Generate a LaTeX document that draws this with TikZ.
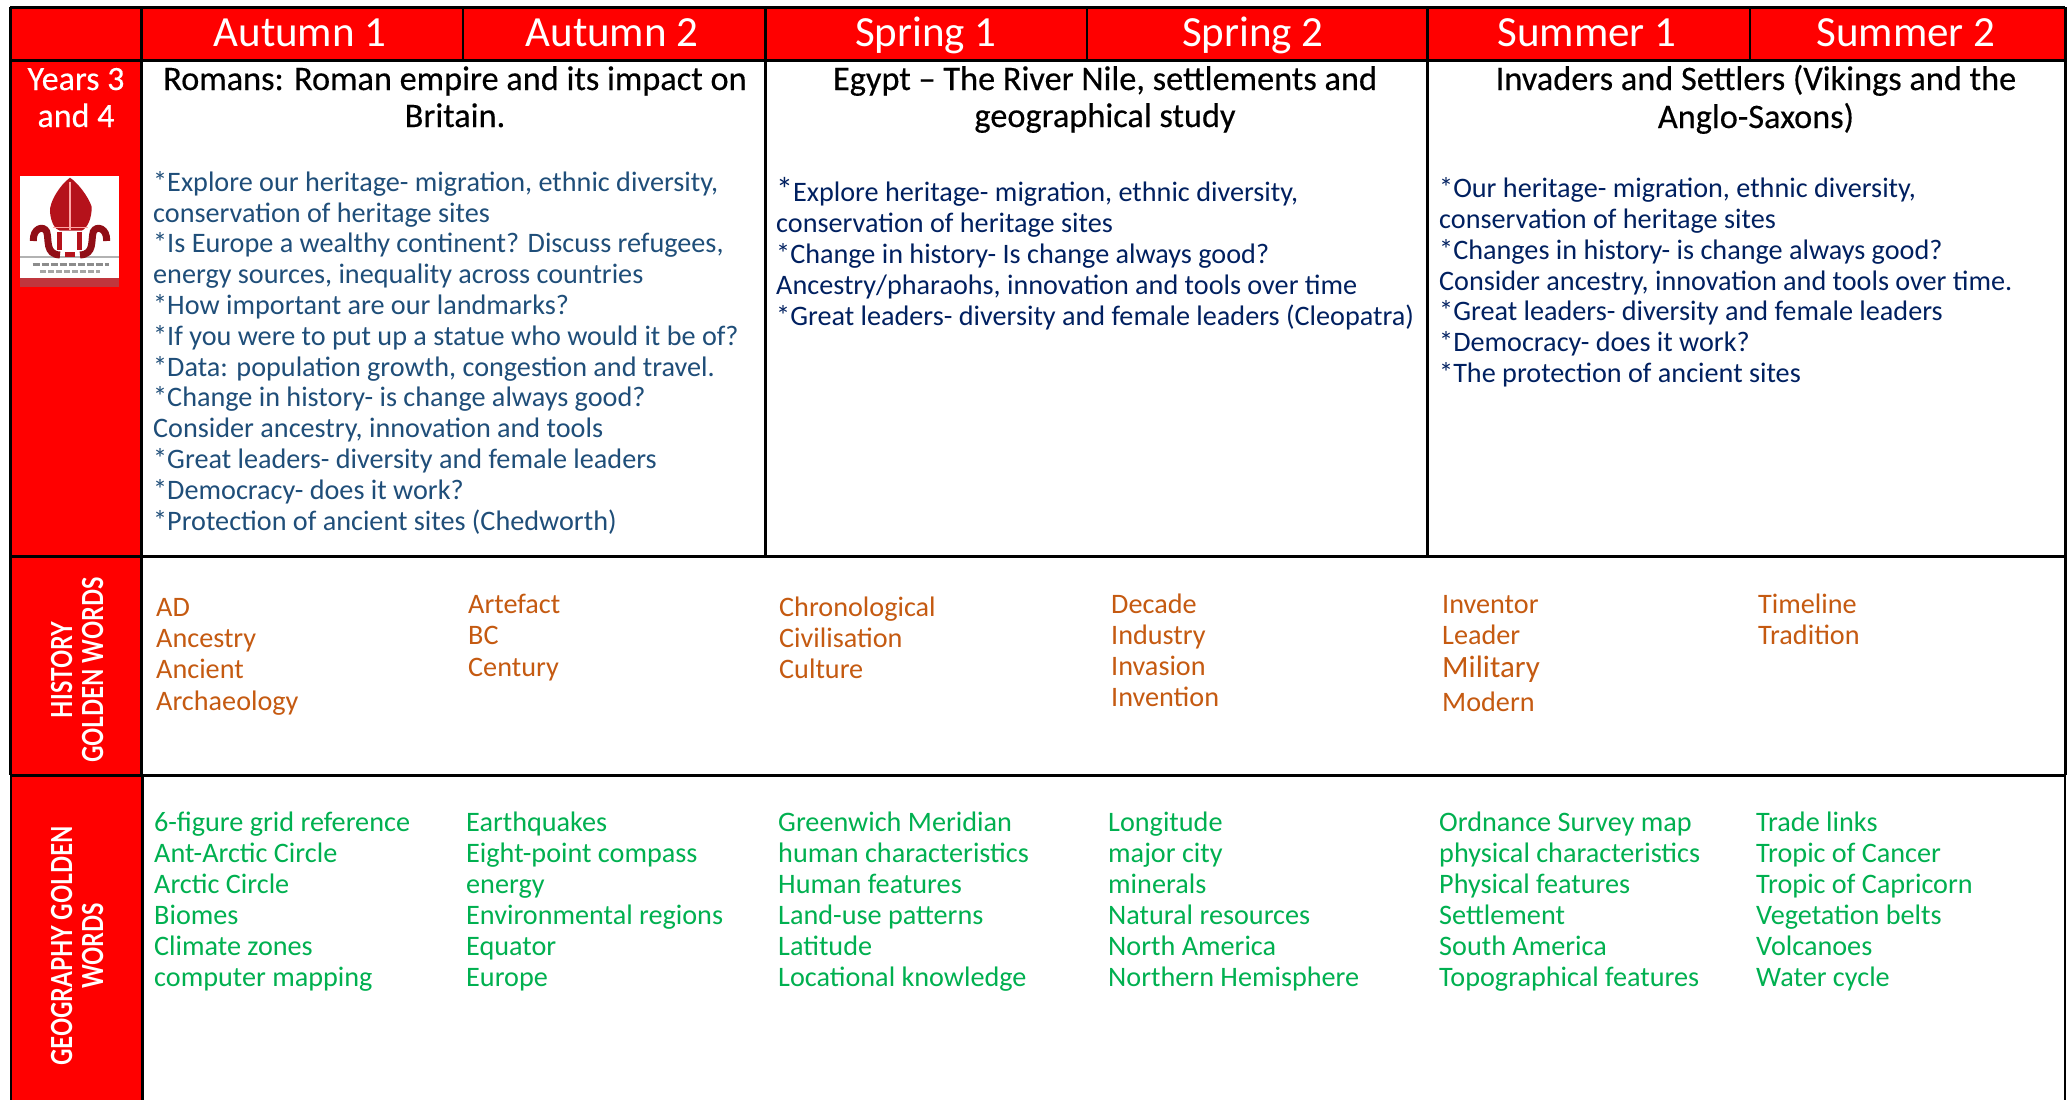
\documentclass[tikz,border=0pt]{standalone}
\usepackage{fontspec}
\setmainfont{Carlito}
\newfontfamily\labfont{Lato}
\newfontfamily\heavyfont[FakeBold=0.35]{Carlito}
\definecolor{hdrred}{HTML}{FF0000}
\definecolor{bodya}{HTML}{1F4E79}
\definecolor{bodyb}{HTML}{002060}
\definecolor{hist}{HTML}{C55A11}
\definecolor{geo}{HTML}{00B050}
\definecolor{logored}{HTML}{B5121B}
\newcommand{\sidetext}[1]{\scalebox{0.78}[1]{#1}}
\tikzset{
  rule/.style={line width=3pt,black},
  thinrule/.style={line width=2pt,black},
  hdr/.style={anchor=base,inner sep=0pt,white,font=\fontsize{43}{43}\selectfont},
  yr/.style={anchor=base,inner sep=0pt,white,font=\heavyfont\fontsize{34}{34}\selectfont},
  ttl/.style={anchor=base,inner sep=0pt,black,font=\heavyfont\fontsize{34.3}{34.3}\selectfont},
  ba/.style={anchor=base west,inner sep=0pt,bodya,font=\fontsize{28.2}{28.2}\selectfont},
  bb/.style={anchor=base west,inner sep=0pt,bodyb,font=\fontsize{28.2}{28.2}\selectfont},
  hw/.style={anchor=base west,inner sep=0pt,hist,font=\fontsize{28.2}{28.2}\selectfont},
  gw/.style={anchor=base west,inner sep=0pt,geo,font=\fontsize{28.2}{28.2}\selectfont},
  side/.style={anchor=base,inner sep=0pt,rotate=90,white,font=\labfont\bfseries\fontsize{29}{29}\selectfont},
}
\begin{document}
\begin{tikzpicture}[x=1pt,y=-1pt]
\useasboundingbox (0,0) rectangle (2067,1100);
\fill[white] (0,0) rectangle (2067,1100);
% red areas
\fill[hdrred] (10,7) rectangle (2065,60);
\fill[hdrred] (10,60) rectangle (142,1100);
% logo
\begin{scope}[shift={(10,165)},x=0.3333pt,y=-0.3333pt]
\fill[white] (30,33) rectangle (327,365);
\fill[logored!85!white] (30,340) rectangle (327,365);
\draw[gray!60,line width=1.5pt] (30,276) -- (327,276);
\draw[black!45,line width=3pt,dash pattern=on 7pt off 2pt] (68,298) -- (298,298);
\draw[black!35,line width=2.5pt,dash pattern=on 6pt off 2pt] (90,320) -- (270,320);
\fill[logored] (180,38) .. controls (150,60) and (118,110) .. (120,140) .. controls (122,170) and (135,195) .. (150,197) -- (215,197) .. controls (232,190) and (246,160) .. (245,125) .. controls (235,95) and (205,55) .. (180,38) -- cycle;
\draw[logored!80!black,line width=7pt] (70,228) .. controls (68,190) and (100,180) .. (110,200) .. controls (118,225) and (105,268) .. (150,270);
\draw[logored!80!black,line width=7pt] (290,228) .. controls (292,190) and (260,180) .. (250,200) .. controls (242,225) and (255,268) .. (210,270);
\draw[logored,line width=5pt] (150,200) -- (150,255) (210,200) -- (210,255) (165,270) -- (195,270);
\draw[red!35!white,line width=1.5pt] (180,50) -- (180,195) (128,188) -- (235,188);
\end{scope}
% rules
\draw[rule] (10,7) -- (2065,7);
\draw[rule] (10,60) -- (2065,60);
\draw[rule] (10,556) -- (2065,556);
\draw[rule] (10,775) -- (2065,775);
\draw[rule] (10,7) -- (10,775);
\draw[line width=2pt] (11,775) -- (11,1100);
\draw[rule] (141.5,7) -- (141.5,775);
\draw[rule] (142.5,775) -- (142.5,1100);
\draw[rule] (765,7) -- (765,556);
\draw[rule] (1427,7) -- (1427,556);
\draw[rule] (2065,7) -- (2065,775);
\draw[line width=1.5pt] (2065,775) -- (2065,1100);
\draw[thinrule] (463,7) -- (463,60);
\draw[thinrule] (1087,7) -- (1087,60);
\draw[thinrule] (1750,7) -- (1750,60);
% header
\node[hdr] (h1) at (300,46) {Autumn 1};
\node[hdr] (h2) at (612,46) {Autumn 2};
\node[hdr] (h3) at (926,46) {Spring 1};
\node[hdr] (h4) at (1253,46) {Spring 2};
\node[hdr] (h5) at (1587,46) {Summer 1};
\node[hdr] (h6) at (1906,46) {Summer 2};
\node[yr] (y1) at (76,90) {Years 3};
\node[yr] (y2) at (76,127) {and 4};
% titles
\node[ttl] (t1a) at (455,90) {Romans: Roman empire and its impact on};
\node[ttl] (t1b) at (455,127) {Britain.};
\node[ttl] (t2a) at (1105,90) {Egypt – The River Nile, settlements and};
\node[ttl] (t2b) at (1105,127) {geographical study};
\node[ttl] (t3a) at (1756,90) {Invaders and Settlers (Vikings and the};
\node[ttl] (t3b) at (1756,128) {Anglo-Saxons)};
% body 1
\node[ba] (a1) at (153,191) {*Explore our heritage- migration, ethnic diversity,};
\node[ba] (a2) at (153,222) {conservation of heritage sites};
\node[ba] (a3) at (153,252) {*Is Europe a wealthy continent? Discuss refugees,};
\node[ba] (a4) at (153,283) {energy sources, inequality across countries};
\node[ba] (a5) at (153,314) {*How important are our landmarks?};
\node[ba] (a6) at (153,345) {*If you were to put up a statue who would it be of?};
\node[ba] (a7) at (153,376) {*Data: population growth, congestion and travel.};
\node[ba] (a8) at (153,406) {*Change in history- is change always good?};
\node[ba] (a9) at (153,437) {Consider ancestry, innovation and tools};
\node[ba] (a10) at (153,468) {*Great leaders- diversity and female leaders};
\node[ba] (a11) at (153,499) {*Democracy- does it work?};
\node[ba] (a12) at (153,530) {*Protection of ancient sites (Chedworth)};
% body 2
\node[bb] (b1) at (776,201) {{\fontsize{34}{34}\selectfont *}Explore heritage- migration, ethnic diversity,};
\node[bb] (b2) at (776,232) {conservation of heritage sites};
\node[bb] (b3) at (776,263) {*Change in history- Is change always good?};
\node[bb] (b4) at (776,294) {Ancestry/pharaohs, innovation and tools over time};
\node[bb] (b5) at (776,325) {*Great leaders- diversity and female leaders (Cleopatra)};
% body 3
\node[bb] (c1) at (1439,197) {*Our heritage- migration, ethnic diversity,};
\node[bb] (c2) at (1439,228) {conservation of heritage sites};
\node[bb] (c3) at (1439,259) {*Changes in history- is change always good?};
\node[bb] (c4) at (1439,290) {Consider ancestry, innovation and tools over time.};
\node[bb] (c5) at (1439,320) {*Great leaders- diversity and female leaders};
\node[bb] (c6) at (1439,351) {*Democracy- does it work?};
\node[bb] (c7) at (1439,382) {*The protection of ancient sites};
% history
\node[hw] (ha1) at (156,616) {AD};
\node[hw] (ha2) at (156,647) {Ancestry};
\node[hw] (ha3) at (156,678) {Ancient};
\node[hw] (ha4) at (156,710) {Archaeology};
\node[hw] (hb1) at (468,613) {Artefact};
\node[hw] (hb2) at (468,644) {BC};
\node[hw] (hb3) at (468,676) {Century};
\node[hw] (hc1) at (779,616) {Chronological};
\node[hw] (hc2) at (779,647) {Civilisation};
\node[hw] (hc3) at (779,678) {Culture};
\node[hw] (hd1) at (1111,613) {Decade};
\node[hw] (hd2) at (1111,644) {Industry};
\node[hw] (hd3) at (1111,675) {Invasion};
\node[hw] (hd4) at (1111,706) {Invention};
\node[hw] (he1) at (1442,613) {Inventor};
\node[hw] (he2) at (1442,644) {Leader};
\node[hw,font=\fontsize{31}{31}\selectfont] (he3) at (1442,677) {Military};
\node[hw] (he4) at (1442,711) {Modern};
\node[hw] (hf1) at (1758,613) {Timeline};
\node[hw] (hf2) at (1758,644) {Tradition};
% geography
\node[gw] (g11) at (154,831) {6-figure grid reference};
\node[gw] (g12) at (154,862) {Ant-Arctic Circle};
\node[gw] (g13) at (154,893) {Arctic Circle};
\node[gw] (g14) at (154,924) {Biomes};
\node[gw] (g15) at (154,955) {Climate zones};
\node[gw] (g16) at (154,986) {computer mapping};
\node[gw] (g21) at (466,831) {Earthquakes};
\node[gw] (g22) at (466,862) {Eight-point compass};
\node[gw] (g23) at (466,893) {energy};
\node[gw] (g24) at (466,924) {Environmental regions};
\node[gw] (g25) at (466,955) {Equator};
\node[gw] (g26) at (466,986) {Europe};
\node[gw] (g31) at (778,831) {Greenwich Meridian};
\node[gw] (g32) at (778,862) {human characteristics};
\node[gw] (g33) at (778,893) {Human features};
\node[gw] (g34) at (778,924) {Land-use patterns};
\node[gw] (g35) at (778,955) {Latitude};
\node[gw] (g36) at (778,986) {Locational knowledge};
\node[gw] (g41) at (1108,831) {Longitude};
\node[gw] (g42) at (1108,862) {major city};
\node[gw] (g43) at (1108,893) {minerals};
\node[gw] (g44) at (1108,924) {Natural resources};
\node[gw] (g45) at (1108,955) {North America};
\node[gw] (g46) at (1108,986) {Northern Hemisphere};
\node[gw] (g51) at (1439,831) {Ordnance Survey map};
\node[gw] (g52) at (1439,862) {physical characteristics};
\node[gw] (g53) at (1439,893) {Physical features};
\node[gw] (g54) at (1439,924) {Settlement};
\node[gw] (g55) at (1439,955) {South America};
\node[gw] (g56) at (1439,986) {Topographical features};
\node[gw] (g61) at (1756,831) {Trade links};
\node[gw] (g62) at (1756,862) {Tropic of Cancer};
\node[gw] (g63) at (1756,893) {Tropic of Capricorn};
\node[gw] (g64) at (1756,924) {Vegetation belts};
\node[gw] (g65) at (1756,955) {Volcanoes};
\node[gw] (g66) at (1756,986) {Water cycle};
% side labels
\node[side] (s1) at (72,670) {\sidetext{HISTORY}};
\node[side] (s2) at (103,670) {\sidetext{GOLDEN WORDS}};
\node[side] (s3) at (72,946) {\sidetext{GEOGRAPHY GOLDEN}};
\node[side] (s4) at (103,946) {\sidetext{WORDS}};
\end{tikzpicture}
\end{document}
